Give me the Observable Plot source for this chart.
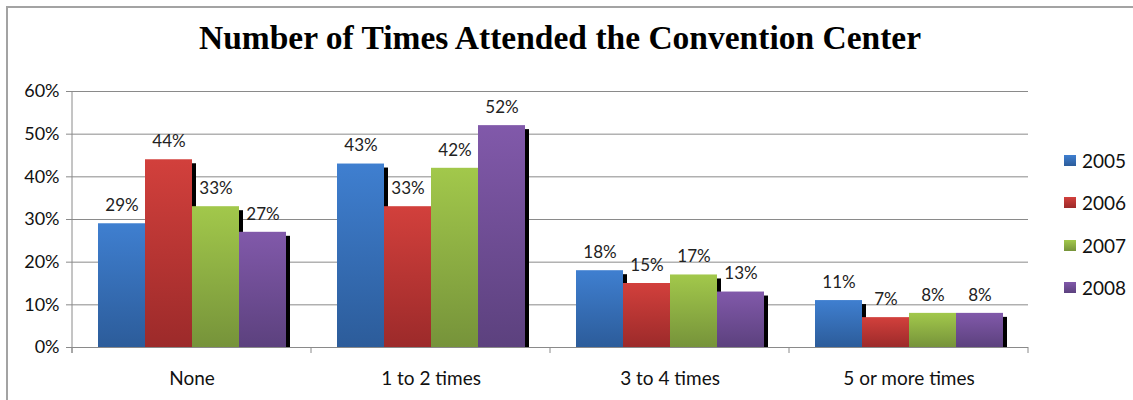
<!DOCTYPE html>
<html><head><meta charset="utf-8">
<script src="https://cdn.jsdelivr.net/npm/d3@7"></script>
<script src="https://cdn.jsdelivr.net/npm/@observablehq/plot@0.6"></script>
<style>
body{margin:0;background:#fff;}
#wrap{position:relative;width:1133px;height:400px;overflow:hidden;font-family:Lato,sans-serif;background:#fff;}
#border{position:absolute;left:6px;top:6px;width:1200px;height:500px;border-left:2px solid #a3a3a3;border-top:2px solid #a3a3a3;}
#title{position:absolute;left:0;top:20px;width:1120px;text-align:center;font:bold 33.5px "Liberation Serif",serif;color:#000;line-height:36px;}
#chart{position:absolute;left:0;top:80px;}
#legend{position:absolute;left:1064px;top:150px;}
.item{display:flex;align-items:center;height:20px;margin-bottom:22.5px;font-size:19px;color:#111;}
.sw{width:12px;height:11px;margin-right:6px;}
</style></head>
<body>
<svg width="0" height="0" style="position:absolute">
<defs id="grads"></defs>
</svg>
<div id="wrap">
<div id="border"></div>
<div id="title">Number of Times Attended the Convention Center</div>
<div id="chart"></div>
<div id="legend"></div>
</div>
<script>
const categories = ["None", "1 to 2 times", "3 to 4 times", "5 or more times"];
const years = ["2005", "2006", "2007", "2008"];
const v2005 = [29, 43, 18, 11];
const v2006 = [44, 33, 15, 7];
const v2007 = [33, 42, 17, 8];
const v2008 = [27, 52, 13, 8];
const yTicks = [0, 10, 20, 30, 40, 50, 60];

const topColors = ["#3f7fd0", "#d2403c", "#a2c84b", "#8159aa"];
const bottomColors = ["#2c5c9a", "#9c2a2a", "#76933a", "#5c417e"];

const series = [v2005, v2006, v2007, v2008];
const data = [];
categories.forEach((c, i) => years.forEach((y, j) => data.push({category: c, year: y, value: series[j][i]})));

// gradients
const defs = d3.select("#grads");
years.forEach((y, i) => {
  const g = defs.append("linearGradient").attr("id", "grad" + i).attr("x1", 0).attr("y1", 0).attr("x2", 0).attr("y2", 1);
  g.append("stop").attr("offset", "0%").attr("stop-color", topColors[i]);
  g.append("stop").attr("offset", "100%").attr("stop-color", bottomColors[i]);
});

const grid = "#8a8a8a";
const plot = Plot.plot({
  width: 1040,
  height: 320,
  marginTop: 11,
  marginBottom: 53,
  marginLeft: 72,
  marginRight: 12,
  style: {fontFamily: "Lato, sans-serif", background: "transparent"},
  fx: {domain: categories, padding: 0, axis: null},
  x: {domain: years, paddingInner: 0, paddingOuter: 0.49, axis: null},
  y: {domain: [0, 60], axis: null},
  color: {domain: years, range: years.map((y, i) => `url(#grad${i})`)},
  marks: [
    Plot.ruleY(yTicks, {stroke: grid, strokeWidth: 1}),
    Plot.axisY({ticks: yTicks, tickFormat: d => d + "%", tickSize: 6, tickPadding: 7, fontSize: 18, stroke: grid, fill: "#111", label: null}),
    Plot.axisFx({domain: categories, anchor: "bottom", tickSize: 0, tickPadding: 24, fontSize: 19, fill: "#111", label: null}),
    Plot.barY(data, {fx: "category", x: "year", y: "value", dx: 4, insetTop: 4, fill: "black"}),
    Plot.barY(data, {fx: "category", x: "year", y: "value", fill: "year"}),
    Plot.text(data, {fx: "category", x: "year", y: "value", text: d => d.value + "%", dy: -18, fontSize: 17, fill: "#222"})
  ]
});
document.getElementById("chart").appendChild(plot);

// axis line and category boundary ticks derived from scales
const fx = plot.scale("fx");
const ys = plot.scale("y");
const y0 = ys.apply(0), yTop = ys.apply(60);
const svg = d3.select(plot);
const bounds = categories.map(c => fx.apply(c)).concat([fx.apply(categories[categories.length - 1]) + fx.bandwidth]);
svg.append("line").attr("x1", bounds[0]).attr("x2", bounds[0]).attr("y1", yTop).attr("y2", y0 + 6).attr("stroke", grid);
bounds.forEach(b => svg.append("line").attr("x1", b).attr("x2", b).attr("y1", y0).attr("y2", y0 + 6).attr("stroke", grid));

// legend
const lg = d3.select("#legend");
years.forEach((y, i) => {
  const it = lg.append("div").attr("class", "item");
  it.append("div").attr("class", "sw").style("background", `linear-gradient(${topColors[i]}, ${bottomColors[i]})`);
  it.append("span").text(y);
});
</script>
</body></html>
